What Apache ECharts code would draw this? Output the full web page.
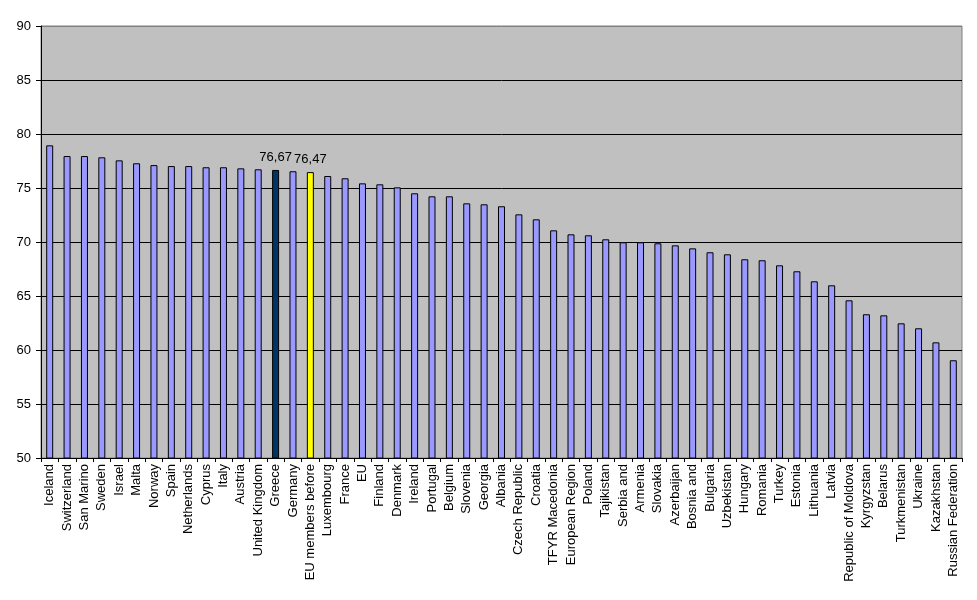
<!DOCTYPE html>
<html><head><meta charset="utf-8">
<script src="https://cdn.jsdelivr.net/npm/echarts@6/dist/echarts.min.js"></script>
<style>html,body{margin:0;padding:0;background:#fff}#c{width:977px;height:600px}</style>
</head><body><div id="c"></div>
<script>
const categories = ["Iceland","Switzerland","San Marino","Sweden","Israel","Malta","Norway","Spain","Netherlands","Cyprus","Italy","Austria","United Kingdom","Greece","Germany","EU members before","Luxembourg","France","EU","Finland","Denmark","Ireland","Portugal","Belgium","Slovenia","Georgia","Albania","Czech Republic","Croatia","TFYR Macedonia","European Region","Poland","Tajikistan","Serbia and","Armenia","Slovakia","Azerbaijan","Bosnia and","Bulgaria","Uzbekistan","Hungary","Romania","Turkey","Estonia","Lithuania","Latvia","Republic of Moldova","Kyrgyzstan","Belarus","Turkmenistan","Ukraine","Kazakhstan","Russian Federation"];
const values = [78.95,77.96,77.96,77.84,77.56,77.29,77.12,77.03,77.03,76.92,76.92,76.82,76.73,76.67,76.55,76.47,76.11,75.90,75.43,75.34,75.06,74.51,74.23,74.23,73.58,73.49,73.31,72.56,72.10,71.08,70.71,70.62,70.25,69.97,69.97,69.88,69.69,69.41,69.05,68.86,68.40,68.31,67.84,67.29,66.36,65.99,64.60,63.31,63.21,62.47,62.01,60.71,59.05];
const highlighted = {"Greece":"#003366","EU members before":"#FFFF00"};
const labelled = ["Greece","EU members before"];
const yTicks = {min:50, max:90, interval:5};

const font = '"Liberation Sans", Arial, sans-serif';
const data = values.map((v,i)=>{
  const name = categories[i];
  const item = {value:v};
  if (highlighted[name]) item.itemStyle = {color: highlighted[name]};
  if (labelled.includes(name)) item.label = {show:true, position:'top', distance:6,
    formatter: p => p.value.toFixed(2).replace('.',','), color:'#000', fontSize:13, fontFamily:font};
  return item;
});
const nLines = (yTicks.max - yTicks.min)/yTicks.interval + 1;
const splitColors = Array.from({length:nLines}, (_,i)=> i===nLines-1 ? '#808080' : '#000');

const chart = echarts.init(document.getElementById('c'), null, {renderer:'canvas'});
chart.setOption({
  animation:false,
  grid:{left:41, top:26, right:15, bottom:142, show:true, backgroundColor:'#C0C0C0', borderColor:'#808080', borderWidth:1},
  xAxis:{type:'category', data:categories,
    axisLine:{lineStyle:{color:'#000', width:1}},
    axisTick:{show:true, alignWithLabel:false, length:4, lineStyle:{color:'#000'}},
    axisLabel:{rotate:90, interval:0, color:'#000', fontSize:13, fontFamily:font, margin:6}},
  yAxis:{type:'value', min:yTicks.min, max:yTicks.max, interval:yTicks.interval,
    axisLine:{show:true, lineStyle:{color:'#000', width:1}},
    axisTick:{show:true, length:5, lineStyle:{color:'#000'}},
    splitLine:{show:true, lineStyle:{color:splitColors, width:1}},
    axisLabel:{color:'#000', fontSize:13, fontFamily:font, margin:10}},
  series:[{type:'bar', data:data, barWidth:7,
    itemStyle:{color:'#9999FF', borderColor:'#000', borderWidth:1}}]
});
</script></body></html>
